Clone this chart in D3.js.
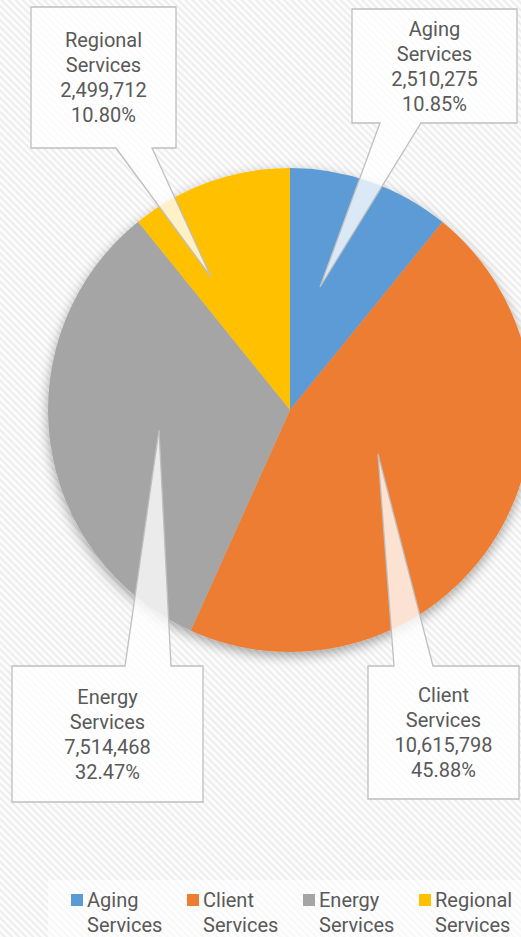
<!DOCTYPE html>
<html>
<head>
<meta charset="utf-8">
<script src="https://cdn.jsdelivr.net/npm/d3@7"></script>
<style>
  body { margin: 0; background: #fff; }
  svg { display: block; font-family: "Roboto", sans-serif; }
</style>
</head>
<body>
<div id="vis"></div>
<script>
// Data
const categories = ["Aging Services", "Client Services", "Energy Services", "Regional Services"];
const values = [2510275, 10615798, 7514468, 2499712];
const percents = ["10.85%", "45.88%", "32.47%", "10.80%"];
const colors = ["#5B9BD5", "#ED7D31", "#A5A5A5", "#FFC000"];

// Callout layout (box + pointer tip)
const callouts = [
  { box: [352, 9, 517, 123], base: [380, 421], tip: [320, 287] },
  { box: [368, 666, 519, 799], base: [394, 433], tip: [378, 454], top: true },
  { box: [12, 666, 203, 802], base: [125, 171], tip: [159, 430], top: true },
  { box: [31, 7, 176, 148], base: [116, 152], tip: [211, 277] }
];

const width = 521;
const height = 937;
const cx = 290, cy = 410, radius = 242;

const svg = d3.select("#vis").append("svg")
    .attr("width", width)
    .attr("height", height);

const defs = svg.append("defs");

// Diagonal stripe background
const pat = defs.append("pattern")
    .attr("id", "stripes")
    .attr("patternUnits", "userSpaceOnUse")
    .attr("width", 5)
    .attr("height", 5)
    .attr("patternTransform", "rotate(-45)");
pat.append("rect").attr("width", 5).attr("height", 5).attr("fill", "#fcfcfc");
pat.append("rect").attr("width", 2).attr("height", 5).attr("fill", "#ededed");

const shadow = defs.append("filter")
    .attr("id", "shadow")
    .attr("x", "-20%").attr("y", "-20%")
    .attr("width", "140%").attr("height", "140%");
shadow.append("feDropShadow")
    .attr("dx", 0)
    .attr("dy", 4)
    .attr("stdDeviation", 6)
    .attr("flood-color", "#000")
    .attr("flood-opacity", 0.35);

svg.append("rect")
    .attr("width", width)
    .attr("height", height)
    .attr("fill", "url(#stripes)");

// Pie
const pie = d3.pie().sort(null).value(d => d);
const arc = d3.arc().innerRadius(0).outerRadius(radius);

const g = svg.append("g")
    .attr("transform", "translate(" + cx + "," + cy + ")")
    .attr("filter", "url(#shadow)");

g.selectAll("path")
    .data(pie(values))
    .enter().append("path")
    .attr("d", arc)
    .attr("fill", (d, i) => colors[i]);

// Callouts
const fmt = d3.format(",");

callouts.forEach((c, i) => {
    const [x0, y0, x1, y1] = c.box;
    const [b0, b1] = c.base;
    let p;
    if (c.top) {
        p = "M" + x0 + "," + y0 + "L" + b0 + "," + y0 + "L" + c.tip[0] + "," + c.tip[1] +
            "L" + b1 + "," + y0 + "L" + x1 + "," + y0 + "L" + x1 + "," + y1 + "L" + x0 + "," + y1 + "Z";
    } else {
        p = "M" + x0 + "," + y1 + "L" + b0 + "," + y1 + "L" + c.tip[0] + "," + c.tip[1] +
            "L" + b1 + "," + y1 + "L" + x1 + "," + y1 + "L" + x1 + "," + y0 + "L" + x0 + "," + y0 + "Z";
    }
    svg.append("path")
        .attr("d", p)
        .attr("fill", "#fff")
        .attr("fill-opacity", 0.78)
        .attr("stroke", "#bfbfbf")
        .attr("stroke-width", 1.3);

    const words = categories[i].split(" ");
    const lines = [words[0], words[1], fmt(values[i]), percents[i]];
    const mx = (x0 + x1) / 2;
    const my = (y0 + y1) / 2;
    const txt = svg.append("text")
        .attr("text-anchor", "middle")
        .attr("fill", "#595959")
        .style("font-size", "20px");
    lines.forEach((l, k) => {
        txt.append("tspan")
            .attr("x", mx)
            .attr("y", my + (k - 1.5) * 25 + 7)
            .text(l);
    });
});

// Legend
svg.append("rect")
    .attr("x", 48).attr("y", 880)
    .attr("width", 473).attr("height", 57)
    .attr("fill", "#fff")
    .attr("fill-opacity", 0.6);

const legendX = d3.scalePoint()
    .domain(categories)
    .range([71, 419]);

const leg = svg.selectAll(".legend")
    .data(categories)
    .enter().append("g")
    .attr("class", "legend")
    .attr("transform", d => "translate(" + legendX(d) + ",0)");

leg.append("rect")
    .attr("x", 0).attr("y", 894)
    .attr("width", 12).attr("height", 12)
    .attr("fill", (d, i) => colors[i]);

leg.append("text")
    .attr("fill", "#595959")
    .style("font-size", "20px")
    .each(function (d) {
        const w = d.split(" ");
        d3.select(this).append("tspan").attr("x", 16).attr("y", 907).text(w[0]);
        d3.select(this).append("tspan").attr("x", 16).attr("y", 932).text(w[1]);
    });
</script>
</body>
</html>
